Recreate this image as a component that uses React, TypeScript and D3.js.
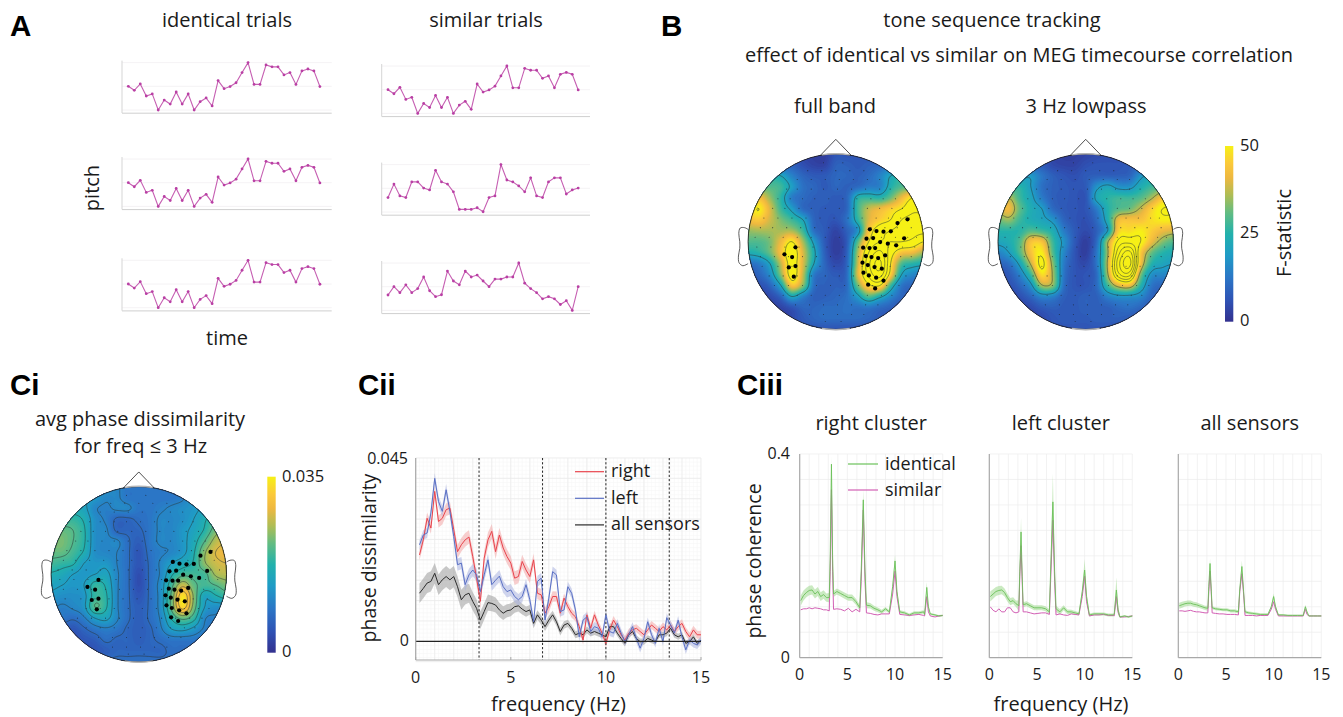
import React, { useMemo } from "react";
import * as d3 from "d3";

const FONT = "'Open Sans', sans-serif";

// ---------- Panel A: pitch sequences ----------
const identicalPitch = [0,-.17,.1,-.41,-.32,-1,-.58,-.75,-.24,-.75,-.32,-1,-.65,-.49,-.83,.24,-.1,-.01,.15,.58,1,.08,.08,.9,.82,.82,.48,.58,.08,.65,.73,.65,-.01];
const similarPitch2 = [-.39,.18,-.32,-.39,.27,.27,.01,-.07,.76,.27,.18,-.15,-.89,-.89,-.89,-.82,-.99,-.39,-.32,1,.35,.27,.1,-.15,.44,-.32,-.39,.27,.44,.44,-.24,-.07,.01];
const similarPitch3 = [-.35,0,-.25,.08,-.25,-.08,.41,-.17,-.42,-.34,.66,.24,.08,.66,.41,.49,.24,0,.32,.32,.41,.41,1,.15,-.08,-.25,-.51,-.42,-.51,-.75,-.59,-1,0];

// ---------- Topographies (17 x 17 grids) ----------
const topoFull = [
[7,7,7,7,6,4,3,3,7,7,7,7,7,7,7,7,7],
[9,9,9,9,9,6,4,4,9,9,8,9,10,12,13,13,13],
[20,20,24,22,15,10,8,8,10,10,9,11,15,22,26,26,26],
[30,30,30,28,20,12,10,8,10,9,11,14,15,25,30,32,32],
[40,43,35,26,14,11,9,9,8,10,25,27,26,32,42,50,52],
[46,50,40,28,20,11,9,8,8,10,28,38,42,46,50,56,56],
[43,45,39,33,28,22,10,8,7,12,26,40,46,50,58,60,60],
[35,36,36,36,36,28,12,8,4,9,18,44,55,58,60,60,60],
[30,30,33,42,50,36,20,8,3,8,30,50,58,58,58,56,50],
[24,26,32,44,56,40,24,9,3,9,36,58,68,54,44,42,36],
[12,14,22,38,54,40,22,10,5,10,38,64,76,50,30,26,24],
[7,10,17,34,54,38,14,10,8,11,40,60,70,46,22,16,14],
[5,6,10,22,44,34,12,9,9,11,32,48,50,28,13,10,9],
[3,3,5,10,22,15,9,9,10,12,20,30,24,16,10,7,6],
[3,3,3,4,7,10,10,11,11,12,12,13,11,9,6,5,5],
[3,3,3,3,5,8,10,11,11,11,11,10,8,6,5,5,5],
[7,7,7,7,7,7,7,7,7,7,7,7,7,7,7,7,7],
];
const topoLow = [
[6,6,6,6,5,4,3,3,4,5,6,6,6,7,7,7,7],
[9,9,9,9,8,5,4,4,6,7,7,7,8,9,10,10,10],
[18,18,18,19,13,9,7,6,8,9,9,9,10,18,22,22,22],
[26,26,26,20,12,9,8,7,8,18,22,18,18,24,28,30,30],
[35,37,28,22,14,9,8,7,7,22,26,28,28,30,36,44,46],
[38,42,31,24,20,11,8,7,7,14,25,30,32,38,46,52,52],
[32,35,28,24,22,18,10,7,6,11,24,42,44,44,48,50,50],
[26,26,26,30,28,24,14,8,5,9,20,46,48,50,46,42,40],
[22,24,30,44,44,28,18,8,3,11,36,54,56,52,42,34,30],
[15,20,30,44,50,30,16,7,3,13,36,62,72,46,32,26,24],
[10,12,22,38,54,34,14,7,5,13,38,68,78,44,26,22,20],
[6,8,15,28,48,36,13,7,7,11,36,62,66,34,18,16,15],
[5,6,10,18,36,34,12,7,7,11,28,40,42,26,13,10,9],
[3,3,6,10,16,15,9,8,9,9,15,18,18,16,10,7,6],
[3,3,3,5,8,9,8,8,9,9,9,11,12,10,7,5,5],
[3,3,3,3,5,7,8,8,8,9,9,9,8,6,5,5,5],
[7,7,7,7,7,7,7,7,7,7,7,7,7,7,7,7,7],
];
const topoPhase = [
[12,12,12,12,12,12,11,9,9,9,9,9,10,12,13,13,13],
[14,14,14,14,13,11,11,9,9,9,9,9,10,13,14,15,15],
[17,17,16,15,11,10,11,11,9,9,10,11,12,13,15,17,17],
[19,19,19,17,12,10,7,7,8,9,11,11,12,14,17,20,22],
[22,22,21,18,12,11,7,7,7,9,11,11,13,15,18,23,26],
[23,23,21,18,12,11,11,8,6,9,11,11,13,16,21,26,28],
[22,22,20,17,12,11,10.5,8,5,8.5,10,11,13,17,24,28,29],
[20,19,18,14,13,13,10.5,8,5,8,11,14,16,18,24,27,28],
[17,16,14,13,14,15,11,8,4,8,11,17,20,20,20,25,26],
[15,14,13,14,19,17,11,8,4,8,12,20,27,22,20,21,23],
[13,12,12,13,19,18,11,8,5,8,12,22,34,24,15,17,19],
[11,10,11,13,21,18,11,8,6,8,12,22,33,23,14,12,12],
[9,9,8,10,14,15,11,8,6,8,11,18,22,19,11,10,10],
[6,6,5,7,9,10,9,7,6,7,10,14,15,13,10,9,9],
[5,5,4,5,6,8,7,7,6,7,8,9,9,9,8,8,8],
[5,5,5,4,5,6,7,7,7,7,7,8,8,8,8,8,8],
[8,8,8,8,8,8,8,8,8,8,8,8,8,8,8,8,8],
];
const levelsFull = [22,50,58,66,74,82];
const levelsLow = [20,37,52,58,64,70,76];
const levelsPhase = [7.5,10.5,14,17.5,21,24.5,28,31.5];

const parulaStops = ["#33318f","#2f52b4","#2b76c6","#1f9cc6","#22b1ac","#62bc82","#aebd55","#eeb840","#fbc93a","#f6f016"];
const parulaPos = [0,.12,.25,.38,.5,.62,.72,.82,.9,1];

// Head outline, in head radii
const earPoints = [[-1,-.14],[-1.04,-.16],[-1.09,-.156],[-1.106,-.095],[-1.095,0],[-1.095,.076],[-1.11,.163],[-1.103,.24],[-1.06,.274],[-1,.25]];
const nosePoints = [[-.18,-.98],[0,-1.167],[.18,-.98]];

// Sensor rows: [y, xs...] in percent of head radius
const sensorRows = [
[-90,-14,8],[-81,-32,-16,0,16,32],[-71,-44,-28,-12,4,20,36,50],[-60,-56,-44,-28,-14,2,18,34,50,62],
[-49,-66,-52,-38,-24,-8,8,24,40,54,68],[-38,-72,-58,-42,-28,-12,4,20,36,50,64,76],
[-27,-82,-66,-50,-34,-18,-2,14,30,46,60,74,84],[-16,-86,-72,-56,-40,-24,-8,8,24,40,56,70,86],
[-5,-92,-76,-60,-44,-28,-12,4,20,36,52,68,82,92],[6,-90,-74,-58,-42,-26,-10,8,26,44,60,76,90],
[17,-86,-70,-54,-38,-22,-6,10,26,42,58,74,86],[28,-84,-66,-50,-34,-18,-2,14,30,46,62,78],
[39,-76,-60,-44,-28,-12,4,20,36,52,68,80],[50,-70,-54,-38,-22,-6,10,26,42,58,72],
[61,-60,-44,-28,-12,4,20,36,52,64],[72,-46,-30,-14,2,18,34,48],[83,-30,-14,2,18,32],[91,-12,6],
];
// Significant sensors, read in the 528-wide frame of a topography
const clusterLeft = [[198,352],[165,373],[188,381],[198,408],[178,412],[193,440]];
const clusterRight = [[534,268],[504,279],[421,298],[441,303],[462,305],[484,304],[524,325],[411,326],[431,324],[452,336],[475,341],[500,346],[401,353],[420,354],[437,354],[467,376],[409,378],[426,381],[446,384],[399,398],[415,405],[435,411],[457,416],[402,428],[418,436],[440,443],[462,452],[416,464],[437,475]];

// ---------- Panel Cii ----------
const ciiFreq = d3.range(1, 76).map((i) => i / 5);
const right = [21.2,24.9,30.2,27.8,36.8,29.4,30.2,32.3,32.7,27.4,22,23.7,24.9,25.6,20.8,15.5,9.8,20.4,24.9,27,22,26.1,22.9,20.8,19.2,15.5,15.9,19.6,17.5,15.9,20,11.8,11.4,6.9,8.5,11,11,6.9,10.6,8.5,6.9,6,3.6,.3,6.5,3.2,6.5,4,2,-.5,2.8,5.2,3.6,1.6,.3,2,2.8,3.2,2.4,1.6,2.8,4,3.2,2.4,3.6,2.8,4,2.4,3.6,4.4,2.4,1.1,2.8,1.6,1.6];
const left = [23.7,26.1,26.6,31.5,40,34.3,31.9,37.2,31.9,25.7,18.8,19.2,13.9,16.3,17.5,16.3,12.2,16.3,20,13.9,15,16,13.4,12.2,12.6,11,10.2,11,13.9,10.2,4.8,14.7,15.5,5.2,10.6,17.1,16.3,7.3,7.7,13.4,11.8,7.7,1.1,5.2,6,2.4,3.6,3.2,1.1,6.5,2.4,2,4.4,2,-.1,1.6,3.6,.7,-1.7,.7,4.8,1.6,-.5,3.2,-.1,5.8,4,2,5.2,1.1,-2.1,.3,-.5,-.9,.3];
const allSensors = [11.8,13,14.3,14.7,16.7,13.9,15.1,15.9,15.1,15.9,13.4,10.2,11.4,11.8,9.8,8.1,5.2,7.3,9.5,9.3,8.9,7.7,6.9,7.5,7.7,8.5,8.7,7.9,7.3,7.7,4.4,6.5,5.2,3.6,5.2,6.5,4.8,2.4,4,4.4,3.2,1.6,2,1.6,2.8,2,2.4,2,1.6,1.1,3.6,3.6,2,.7,-.5,1.6,2.4,.7,-.1,-.1,.7,.3,-.1,1.6,1.6,2,3.2,1.6,1.1,1.6,-.5,-.1,1.1,-.5,.3];
const ciiErrKnots = [0,2,4,6,8,10,15];
const rightErr = [1.3,1.6,1.8,1.6,1.1,1,1];
const leftErr = [1.1,1.5,1.5,1.4,1.2,1.1,1];
const allErr = [2.4,2.6,1.9,1.2,.9,.8,.7];
const ciiSeries = [
  { name: "all sensors", values: allSensors, err: allErr, color: "#2b2b2b", band: "#9a9a9a" },
  { name: "right", values: right, err: rightErr, color: "#e8434c", band: "#f3a5a5" },
  { name: "left", values: left, err: leftErr, color: "#5a70c4", band: "#a9b3e0" },
];
const ciiLegend = ["right", "left", "all sensors"];
const ciiDashes = [3.33, 6.67, 10, 13.33];

// ---------- Panel Ciii ----------
const coFreq = [.1,.4,.7,1,1.3,1.6,1.9,2.2,2.5,2.8,3.1,3.2,3.33,3.45,3.55,3.9,4.3,4.7,5.1,5.5,5.9,6.3,6.45,6.67,6.85,7,7.4,7.8,8.2,8.6,9,9.4,9.75,10,10.2,10.5,11,11.5,12,12.5,13,13.1,13.33,13.5,13.7,14.2,14.6,15];
const rightIdentical = [.112,.122,.128,.132,.133,.125,.13,.12,.124,.118,.118,.2,.38,.2,.125,.13,.126,.122,.118,.118,.11,.098,.17,.31,.17,.103,.102,.097,.094,.09,.096,.09,.14,.19,.13,.09,.088,.084,.088,.088,.09,.085,.138,.1,.086,.084,.082,.083];
const rightSimilar = [.094,.096,.096,.098,.096,.098,.097,.096,.094,.094,.092,.17,.33,.17,.095,.096,.095,.092,.097,.09,.095,.09,.15,.29,.15,.088,.087,.085,.084,.086,.086,.086,.125,.17,.12,.085,.084,.083,.084,.085,.083,.082,.12,.09,.082,.08,.082,.083];
const leftIdentical = [.12,.125,.13,.132,.133,.128,.118,.11,.112,.106,.102,.17,.247,.16,.104,.106,.102,.098,.098,.098,.096,.09,.18,.306,.17,.096,.09,.098,.09,.09,.088,.086,.13,.172,.12,.084,.086,.086,.086,.084,.084,.085,.133,.095,.08,.082,.08,.082];
const leftSimilar = [.1,.093,.09,.096,.09,.09,.098,.098,.09,.088,.09,.16,.22,.15,.09,.09,.088,.086,.087,.088,.088,.085,.16,.27,.15,.084,.086,.084,.083,.086,.085,.084,.12,.16,.11,.082,.084,.084,.085,.083,.083,.082,.12,.09,.08,.08,.081,.082];
const allIdentical = [.102,.104,.106,.107,.107,.105,.104,.102,.1,.098,.097,.14,.185,.135,.098,.096,.095,.094,.094,.092,.092,.09,.135,.179,.13,.09,.088,.087,.086,.085,.085,.085,.1,.12,.1,.084,.084,.083,.083,.083,.083,.083,.1,.09,.082,.082,.082,.082];
const allSimilar = [.092,.092,.091,.092,.093,.091,.09,.09,.089,.088,.088,.13,.17,.13,.088,.087,.086,.086,.085,.085,.085,.084,.13,.165,.125,.083,.083,.083,.082,.083,.083,.083,.095,.11,.095,.082,.082,.082,.082,.082,.082,.082,.095,.085,.082,.082,.082,.082];
const coErrKnots = [0,3,3.2,3.33,3.5,6.3,6.5,6.67,6.9,9.7,10,10.3,13.1,13.33,13.6,15];
const rightCoErr = [.01,.008,.01,.015,.006,.006,.01,.02,.006,.003,.012,.003,.003,.01,.002,.002];
const leftCoErr = [.01,.006,.015,.028,.005,.005,.025,.055,.006,.003,.022,.003,.003,.025,.002,.002];
const allCoErr = [.006,.004,.006,.01,.003,.003,.006,.012,.003,.002,.006,.002,.002,.004,.001,.001];
const coPanels = [
  { title: "right cluster", identical: rightIdentical, similar: rightSimilar, err: rightCoErr },
  { title: "left cluster", identical: leftIdentical, similar: leftSimilar, err: leftCoErr },
  { title: "all sensors", identical: allIdentical, similar: allSimilar, err: allCoErr },
];
const coLegend = ["identical", "similar"];
const freqTicks = [0, 5, 10, 15];

// ---------- helpers ----------
const parulaScale = d3.scaleLinear<string>().domain(parulaPos).range(parulaStops).clamp(true);

function cubic(a: number, b: number, c: number, d: number, t: number) {
  return b + 0.5 * t * (c - a + t * (2 * a - 5 * b + 4 * c - d + t * (3 * (b - c) + d - a)));
}
function upsample(grid: number[][], f: number) {
  const n = grid.length;
  const m = (n - 1) * f + 1;
  const out = new Float64Array(m * m);
  const at = (r: number, c: number) => grid[Math.max(0, Math.min(n - 1, r))][Math.max(0, Math.min(n - 1, c))];
  for (let j = 0; j < m; j++) {
    const r = Math.min(n - 2, Math.floor(j / f));
    const tr = j / f - r;
    for (let i = 0; i < m; i++) {
      const c = Math.min(n - 2, Math.floor(i / f));
      const tc = i / f - c;
      const col = [-1, 0, 1, 2].map((dr) =>
        cubic(at(r + dr, c - 1), at(r + dr, c), at(r + dr, c + 1), at(r + dr, c + 2), tc));
      out[j * m + i] = cubic(col[0], col[1], col[2], col[3], tr);
    }
  }
  return { values: Array.from(out), size: m };
}

function Topo({ id, cx, cy, r, grid, vmax, levels, clusters }: any) {
  const { fills, lines, k } = useMemo(() => {
    const { values, size } = upsample(grid, 8);
    const path = d3.geoPath();
    const contours = d3.contours().size([size, size]);
    const fillLevels = d3.range(0, vmax + 0.001, vmax / 60);
    const fills = fillLevels.map((t: number) => ({
      d: path(contours.contour(values, t)) || "",
      color: parulaScale(t / vmax),
    }));
    const lines = levels.map((t: number) => path(contours.contour(values, t)) || "");
    return { fills, lines, k: (2 * r) / (size - 1) };
  }, [grid, vmax, levels, r]);
  const hx = d3.scaleLinear().domain([-1, 1]).range([cx - r, cx + r]);
  const hy = d3.scaleLinear().domain([-1, 1]).range([cy - r, cy + r]);
  const fx = d3.scaleLinear().domain([56, 582]).range([cx - r, cx + r]);
  const fy = d3.scaleLinear().domain([72, 598]).range([cy - r, cy + r]);
  const earLine = d3.line<number[]>().x((p) => hx(p[0])).y((p) => hy(p[1])).curve(d3.curveCatmullRom);
  const earLineR = d3.line<number[]>().x((p) => hx(-p[0])).y((p) => hy(p[1])).curve(d3.curveCatmullRom);
  const noseLine = d3.line<number[]>().x((p) => hx(p[0])).y((p) => hy(p[1]));
  const arc = d3.arc();
  return (
    <g>
      <clipPath id={id}><circle cx={cx} cy={cy} r={r} /></clipPath>
      <g clipPath={`url(#${id})`}>
        <rect x={cx - r} y={cy - r} width={2 * r} height={2 * r} fill={parulaStops[0]} />
        <g transform={`translate(${cx - r - k / 2},${cy - r - k / 2}) scale(${k})`}>
          {fills.map((f: any, i: number) => <path key={i} d={f.d} fill={f.color} />)}
          {lines.map((d: string, i: number) => (
            <path key={i} d={d} fill="none" stroke="#2c3a3a" strokeOpacity={0.75} strokeWidth={0.7 / k} />
          ))}
        </g>
        {sensorRows.map((row, i) =>
          row.slice(1).map((x, j) => (
            <circle key={`${i}-${j}`} cx={hx(x / 100)} cy={hy(row[0] / 100)} r={0.55} fill="#1d2430" opacity={0.75} />
          )))}
        {clusters && clusters.map((p: number[], i: number) => (
          <circle key={i} cx={fx(p[0])} cy={fy(p[1])} r={2.1} fill="#000" />
        ))}
      </g>
      <circle cx={cx} cy={cy} r={r} fill="none" stroke="#222" strokeWidth={0.9} />
      <path d={noseLine(nosePoints) || ""} fill="none" stroke="#222" strokeWidth={0.8} />
      <path d={earLine(earPoints) || ""} fill="none" stroke="#333" strokeWidth={0.8} />
      <path d={earLineR(earPoints) || ""} fill="none" stroke="#333" strokeWidth={0.8} />
      {[0, Math.PI].map((a) => (
        <path key={a} transform={`translate(${cx},${cy})`} fill="#b5b5b5"
          d={arc({ innerRadius: r - 0.5, outerRadius: r + 1, startAngle: a - 0.16, endAngle: a + 0.16 } as any) || ""} />
      ))}
    </g>
  );
}

function ColorBar({ id, x, y0, y1, width }: any) {
  return (
    <g>
      <linearGradient id={id} x1="0" x2="0" y1="1" y2="0">
        {parulaStops.map((c, i) => <stop key={i} offset={parulaPos[i]} stopColor={c} />)}
      </linearGradient>
      <rect x={x} y={y0} width={width} height={y1 - y0} fill={`url(#${id})`} />
    </g>
  );
}

function Pitch({ values, x0, x1, mid, amp }: any) {
  const x = d3.scaleLinear().domain([0, values.length - 1]).range([x0 + 6.3, x1 - 11.8]);
  const y = d3.scaleLinear().domain([-1, 1]).range([mid + amp, mid - amp]);
  const line = d3.line<number>().x((_, i) => x(i)).y((d) => y(d));
  return (
    <g>
      {[-1, 0, 1].map((t) => (
        <line key={t} x1={x0} x2={x1} y1={y(t)} y2={y(t)} stroke="#f1eff1" strokeWidth={0.8} />
      ))}
      <line x1={x0} x2={x0} y1={y(1) - 2} y2={y(-1) + 3} stroke="#d5d5d5" strokeWidth={1} />
      <line x1={x0} x2={x1} y1={y(-1) + 3.2} y2={y(-1) + 3.2} stroke="#cfcfcf" strokeWidth={1} />
      <path d={line(values) || ""} fill="none" stroke="#c65fb2" strokeWidth={1.1} />
      {values.map((v: number, i: number) => (
        <circle key={i} cx={x(i)} cy={y(v)} r={1.4} fill="#b93fa4" />
      ))}
    </g>
  );
}

function Cii() {
  const x = d3.scaleLinear().domain([0, 15]).range([415.7, 701]);
  const y = d3.scaleLinear().domain([0, 45]).range([641.3, 458]);
  const yBottom = 660;
  const errScale = (e: number[]) => d3.scaleLinear().domain(ciiErrKnots).range(e);
  const minor = d3.range(0, 15.01, 0.2);
  const major = d3.range(0, 15.01, 1);
  const hMinor = d3.range(-5, 45.01, 1);
  const hMajor = d3.range(-5, 45.01, 5);
  return (
    <g>
      {minor.map((f) => <line key={f} x1={x(f)} x2={x(f)} y1={y(45)} y2={yBottom} stroke="#f6f6f6" strokeWidth={0.6} />)}
      {hMinor.map((v) => <line key={v} y1={y(v)} y2={y(v)} x1={x(0)} x2={x(15)} stroke="#f6f6f6" strokeWidth={0.6} />)}
      {major.map((f) => <line key={f} x1={x(f)} x2={x(f)} y1={y(45)} y2={yBottom} stroke="#e9e9e9" strokeWidth={0.7} />)}
      {hMajor.map((v) => <line key={v} y1={y(v)} y2={y(v)} x1={x(0)} x2={x(15)} stroke="#e9e9e9" strokeWidth={0.7} />)}
      {ciiSeries.map((s) => {
        const e = errScale(s.err);
        const area = d3.area<number>().x((_, i) => x(ciiFreq[i]))
          .y0((d, i) => y(d - e(ciiFreq[i]))).y1((d, i) => y(d + e(ciiFreq[i])));
        return <path key={s.name} d={area(s.values) || ""} fill={s.band} opacity={0.55} />;
      })}
      {ciiDashes.map((f) => (
        <line key={f} x1={x(f)} x2={x(f)} y1={y(45)} y2={yBottom} stroke="#222" strokeWidth={1} strokeDasharray="2.2 2" />
      ))}
      {ciiSeries.map((s) => {
        const line = d3.line<number>().x((_, i) => x(ciiFreq[i])).y((d) => y(d));
        return <path key={s.name} d={line(s.values) || ""} fill="none" stroke={s.color} strokeWidth={1} />;
      })}
      <line x1={x(0)} x2={x(15)} y1={y(0)} y2={y(0)} stroke="#222" strokeWidth={1.3} />
      <line x1={x(0)} x2={x(0)} y1={y(45)} y2={yBottom} stroke="#a8a8a8" strokeWidth={1.2} />
      <line x1={x(0)} x2={x(15)} y1={yBottom} y2={yBottom} stroke="#a8a8a8" strokeWidth={1.2} />
      {freqTicks.map((f) => (
        <g key={f}>
          <line x1={x(f)} x2={x(f)} y1={yBottom} y2={yBottom - 3} stroke="#a8a8a8" />
          <text x={x(f)} y={683} textAnchor="middle" fontSize={16}>{f}</text>
        </g>
      ))}
      <text x={408} y={464} textAnchor="end" fontSize={16}>0.045</text>
      <text x={409} y={646} textAnchor="end" fontSize={16}>0</text>
      {ciiLegend.map((n, i) => {
        const s = ciiSeries.find((q) => q.name === n)!;
        const ly = 471.7 + i * 26.6;
        return (
          <g key={n}>
            <line x1={575} x2={604} y1={ly} y2={ly} stroke={s.color} strokeWidth={1.2} />
            <text x={611} y={ly + 5.5} fontSize={18}>{n}</text>
          </g>
        );
      })}
    </g>
  );
}

function CoPanel({ panel, x0, showY }: any) {
  const x = d3.scaleLinear().domain([0, 15]).range([x0, x0 + 143]);
  const y = d3.scaleLinear().domain([0, 0.4]).range([657.7, 454]);
  const e = d3.scaleLinear().domain(coErrKnots).range(panel.err);
  const area = d3.area<number>().x((_, i) => x(coFreq[i]))
    .y0((d, i) => y(d - e(coFreq[i]))).y1((d, i) => y(d + e(coFreq[i])));
  const line = d3.line<number>().x((_, i) => x(coFreq[i])).y((d) => y(d));
  return (
    <g>
      {d3.range(1, 16).map((f) => <line key={f} x1={x(f)} x2={x(f)} y1={y(0.4)} y2={y(0)} stroke="#ececec" strokeWidth={0.7} />)}
      {d3.range(0.05, 0.401, 0.05).map((v) => <line key={v} x1={x(0)} x2={x(15)} y1={y(v)} y2={y(v)} stroke="#ececec" strokeWidth={0.7} />)}
      <path d={area(panel.identical) || ""} fill="#a6dc98" opacity={0.6} />
      <path d={line(panel.similar) || ""} fill="none" stroke="#d25fb4" strokeWidth={1} />
      <path d={line(panel.identical) || ""} fill="none" stroke="#6cc15a" strokeWidth={0.9} />
      <line x1={x(0)} x2={x(0)} y1={y(0.4)} y2={y(0)} stroke="#a8a8a8" strokeWidth={1.2} />
      <line x1={x(0)} x2={x(15)} y1={y(0)} y2={y(0)} stroke="#a8a8a8" strokeWidth={1.2} />
      {freqTicks.map((f) => (
        <text key={f} x={x(f)} y={680} textAnchor="middle" fontSize={16}>{f}</text>
      ))}
      <text x={x(7.5)} y={430} textAnchor="middle" fontSize={20}>{panel.title}</text>
      {showY && <text x={790} y={459} textAnchor="end" fontSize={16}>0.4</text>}
      {showY && <text x={790} y={663} textAnchor="end" fontSize={16}>0</text>}
    </g>
  );
}

export default function App() {
  return (
    <svg width={1343} height={717} viewBox="0 0 1343 717"
      style={{ position: "absolute", left: 0, top: 0, background: "#fff", fontFamily: FONT }} fill="#1a1a1a">
      {/* panel letters */}
      {[["A", 10, 36], ["B", 661, 36], ["Ci", 10, 394.5], ["Cii", 358, 394.5], ["Ciii", 737, 394.5]].map(([t, x, y]: any) => (
        <text key={t} x={x} y={y} fontSize={29.5} fontWeight={700} fill="#000" fontFamily="'Liberation Sans', sans-serif">{t}</text>
      ))}

      {/* Panel A */}
      <text x={227} y={27} textAnchor="middle" fontSize={20}>identical trials</text>
      <text x={486} y={27} textAnchor="middle" fontSize={20}>similar trials</text>
      <text transform="translate(99,188) rotate(-90)" textAnchor="middle" fontSize={20}>pitch</text>
      <text x={227} y={345} textAnchor="middle" fontSize={20}>time</text>
      {[86.3, 182.7, 284].map((m) => <Pitch key={m} values={identicalPitch} x0={122} x1={331.7} mid={m} amp={23.7} />)}
      <Pitch values={identicalPitch} x0={381.7} x1={590} mid={89.7} amp={23.7} />
      <Pitch values={similarPitch2} x0={381.7} x1={590} mid={188.3} amp={23.7} />
      <Pitch values={similarPitch3} x0={381.7} x1={590} mid={286.7} amp={23.7} />

      {/* Panel B */}
      <text x={992} y={27} textAnchor="middle" fontSize={20}>tone sequence tracking</text>
      <text x={1019} y={62} textAnchor="middle" fontSize={20}>effect of identical vs similar on MEG timecourse correlation</text>
      <text x={835} y={113} textAnchor="middle" fontSize={20}>full band</text>
      <text x={1086} y={113} textAnchor="middle" fontSize={20}>3 Hz lowpass</text>
      <Topo id="t1" cx={835.8} cy={241.7} r={87.7} grid={topoFull} vmax={50} levels={levelsFull} clusters={[...clusterLeft, ...clusterRight]} />
      <Topo id="t2" cx={1085.7} cy={241.7} r={87.7} grid={topoLow} vmax={50} levels={levelsLow} />
      <ColorBar id="cb1" x={1225} y0={146} y1={321.7} width={8.3} />
      <text x={1240} y={151} fontSize={16.5}>50</text>
      <text x={1240} y={238} fontSize={16.5}>25</text>
      <text x={1240} y={326} fontSize={16.5}>0</text>
      <text transform="translate(1291,233) rotate(-90)" textAnchor="middle" fontSize={20}>F-statistic</text>

      {/* Panel Ci */}
      <text x={140} y={426} textAnchor="middle" fontSize={20}>avg phase dissimilarity</text>
      <text x={140.5} y={453} textAnchor="middle" fontSize={20}>for freq ≤ 3 Hz</text>
      <Topo id="t3" cx={138.8} cy={574.3} r={87.7} grid={topoPhase} vmax={35} levels={levelsPhase} clusters={[...clusterLeft, ...clusterRight]} />
      <ColorBar id="cb2" x={267.3} y0={476.7} y1={652.7} width={8.4} />
      <text x={282} y={482} fontSize={16.5}>0.035</text>
      <text x={282} y={657} fontSize={16.5}>0</text>

      {/* Panel Cii */}
      <text transform="translate(376,558) rotate(-90)" textAnchor="middle" fontSize={19.5}>phase dissimilarity</text>
      <text x={558.5} y={711} textAnchor="middle" fontSize={20}>frequency (Hz)</text>
      <Cii />

      {/* Panel Ciii */}
      <text transform="translate(761,561) rotate(-90)" textAnchor="middle" fontSize={19.5}>phase coherence</text>
      <text x={1061} y={711} textAnchor="middle" fontSize={20}>frequency (Hz)</text>
      {coPanels.map((p, i) => <CoPanel key={p.title} panel={p} x0={[799.7, 989.3, 1178.3][i]} showY={i === 0} />)}
      {coLegend.map((n, i) => (
        <g key={n}>
          <line x1={848} x2={878} y1={464 + i * 26} y2={464 + i * 26} stroke={i === 0 ? "#6cc15a" : "#d25fb4"} strokeWidth={1.2} />
          <text x={885} y={470 + i * 26} fontSize={18}>{n}</text>
        </g>
      ))}
    </svg>
  );
}
